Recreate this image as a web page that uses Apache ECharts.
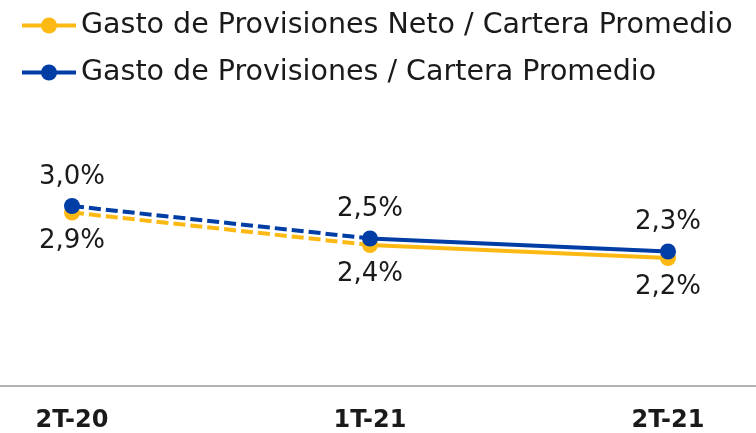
<!DOCTYPE html>
<html>
<head>
<meta charset="utf-8">
<script src="https://cdn.jsdelivr.net/npm/echarts@6/dist/echarts.min.js"></script>
<style>
  html, body { margin: 0; padding: 0; background: #fff; }
  #chart { width: 756px; height: 433px; }
</style>
</head>
<body>
<div id="chart"></div>
<script>
// periodos y valores (%)
const categories = ['2T-20', '1T-21', '2T-21']
const netoName = 'Gasto de Provisiones Neto / Cartera Promedio'
const brutoName = 'Gasto de Provisiones / Cartera Promedio'
const netoValues = [2.9, 2.4, 2.2]
const brutoValues = [3.0, 2.5, 2.3]

const yellow = '#FDB913'
const blue = '#003DA5'
const font = 'DejaVu Sans'

const fmt = (p) => p.value.toFixed(1).replace('.', ',') + '%'

// tramo punteado del primer al segundo punto, sólido después
const dashedPart = (arr) => arr.map((v, i) => (i <= 1 ? v : null))
const solidPart = (arr) => arr.map((v, i) => (i >= 1 ? v : null))

const lineSeries = (name, values, color, labelPos) => [
  {
    name: name,
    type: 'line',
    data: solidPart(values),
    symbol: 'circle',
    symbolSize: 16,
    showSymbol: false,
    lineStyle: { color: color, width: 4 },
    itemStyle: { color: color },
    silent: true
  },
  {
    name: name + '-dash',
    type: 'line',
    data: dashedPart(values),
    showSymbol: false,
    lineStyle: { color: color, width: 4, type: [12, 5] },
    itemStyle: { color: color },
    silent: true
  },
  {
    name: name + '-pts',
    type: 'line',
    data: values,
    symbol: 'circle',
    symbolSize: 16,
    lineStyle: { opacity: 0 },
    itemStyle: { color: color },
    label: {
      show: true,
      position: labelPos,
      distance: 8,
      formatter: fmt,
      fontFamily: font,
      fontSize: 26,
      color: '#1a1a1a'
    },
    silent: true
  }
]

const chart = echarts.init(document.getElementById('chart'))
chart.setOption({
  animation: false,
  legend: {
    data: [netoName, brutoName],
    orient: 'vertical',
    left: 15,
    top: 6,
    itemWidth: 54,
    itemHeight: 20,
    itemGap: 18,
    lineStyle: { width: 4 },
    textStyle: { fontFamily: font, fontSize: 28.5, color: '#1a1a1a' }
  },
  grid: [
    { left: 72, right: 88, top: 141, bottom: 32 },
    { left: 0, right: 0, top: 300, bottom: 47 }
  ],
  xAxis: [
    {
      gridIndex: 0,
      type: 'category',
      boundaryGap: false,
      data: categories,
      axisLine: { show: false },
      axisTick: { show: false },
      axisLabel: {
        margin: 8,
        fontFamily: font,
        fontSize: 24,
        fontWeight: 'bold',
        color: '#1a1a1a'
      }
    },
    {
      gridIndex: 1,
      type: 'value',
      min: 0,
      max: 1,
      axisLine: { show: true, lineStyle: { color: '#9a9a9a', width: 1.5 } },
      axisTick: { show: false },
      axisLabel: { show: false },
      splitLine: { show: false }
    }
  ],
  yAxis: [
    { gridIndex: 0, type: 'value', min: 0, max: 4, show: false },
    { gridIndex: 1, type: 'value', min: 0, max: 1, show: false }
  ],
  series: [
    ...lineSeries(netoName, netoValues, yellow, 'bottom'),
    ...lineSeries(brutoName, brutoValues, blue, 'top')
  ]
})
</script>
</body>
</html>
